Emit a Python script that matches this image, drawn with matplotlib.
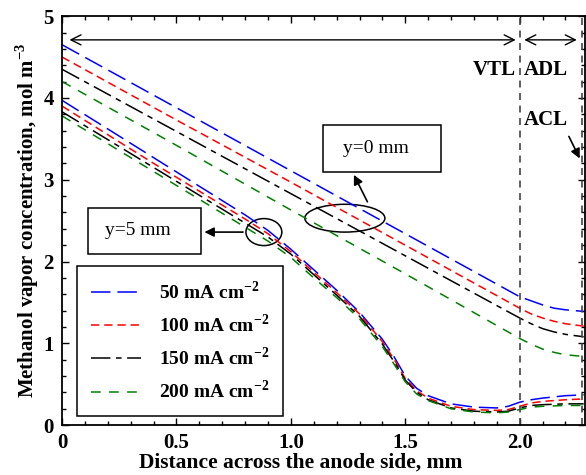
import matplotlib
matplotlib.use('Agg')
import matplotlib.pyplot as plt
from matplotlib.patches import Ellipse, Rectangle
from matplotlib.ticker import MultipleLocator

plt.rcParams['font.family'] = ['Liberation Serif', 'DejaVu Serif']
plt.rcParams['mathtext.fontset'] = 'custom'
plt.rcParams['mathtext.rm'] = 'Liberation Serif:bold'
plt.rcParams['mathtext.bf'] = 'Liberation Serif:bold'
plt.rcParams['lines.scale_dashes'] = False

# y = 0 mm (upper set)
x_top = [0.0, 0.5, 1.0, 1.5, 2.0, 2.05, 2.1, 2.15, 2.2, 2.28]
blue_top = [4.65, 3.88, 3.11, 2.34, 1.57, 1.52, 1.47, 1.43, 1.41, 1.39]
red_top = [4.50, 3.73, 2.97, 2.20, 1.43, 1.36, 1.31, 1.27, 1.24, 1.21]
black_top = [4.35, 3.59, 2.83, 2.07, 1.31, 1.24, 1.18, 1.14, 1.11, 1.08]
green_top = [4.20, 3.42, 2.63, 1.85, 1.06, 0.99, 0.93, 0.89, 0.86, 0.84]

# y = 5 mm (lower set)
x_bot = [0.0, 0.2, 0.4, 0.6, 0.8, 0.9, 1.0, 1.1, 1.2, 1.3, 1.4, 1.45, 1.5,
         1.55, 1.6, 1.7, 1.8, 1.9, 1.95, 2.0, 2.05, 2.1, 2.2, 2.28]
blue_bot = [3.97, 3.62, 3.27, 2.92, 2.57, 2.38, 2.15, 1.90, 1.65, 1.38, 1.05, 0.84, 0.60,
            0.45, 0.36, 0.26, 0.22, 0.21, 0.23, 0.28, 0.31, 0.33, 0.36, 0.37]
red_bot = [3.90, 3.55, 3.20, 2.86, 2.52, 2.34, 2.12, 1.87, 1.62, 1.36, 1.02, 0.81, 0.57,
           0.42, 0.33, 0.23, 0.19, 0.18, 0.19, 0.23, 0.27, 0.29, 0.31, 0.32]
black_bot = [3.83, 3.49, 3.15, 2.81, 2.47, 2.30, 2.09, 1.84, 1.59, 1.33, 0.99, 0.78, 0.55,
             0.40, 0.31, 0.21, 0.17, 0.16, 0.17, 0.21, 0.24, 0.25, 0.26, 0.26]
green_bot = [3.78, 3.44, 3.10, 2.76, 2.42, 2.25, 2.05, 1.80, 1.56, 1.30, 0.96, 0.75, 0.53,
             0.38, 0.30, 0.20, 0.16, 0.15, 0.16, 0.19, 0.22, 0.23, 0.24, 0.24]

labels = [r'50 mA cm$^{-2}$', r'100 mA cm$^{-2}$', r'150 mA cm$^{-2}$', r'200 mA cm$^{-2}$']
colors = ['#0000ff', '#ff0000', '#000000', '#008000']
dashes = [(14, 5), (6, 3.5), (14, 4, 4, 4), (7, 6)]

fig = plt.figure(figsize=(5.86, 4.75), dpi=100)
ax = fig.add_axes([0.106, 0.105, 0.892, 0.861])

tops = [blue_top, red_top, black_top, green_top]
bots = [blue_bot, red_bot, black_bot, green_bot]
for i in range(4):
    ax.plot(x_top, tops[i], color=colors[i], lw=1.1, dashes=dashes[i], label=labels[i])
    ax.plot(x_bot, bots[i], color=colors[i], lw=1.1, dashes=dashes[i])

ax.set_xlim(0, 2.285)
ax.set_ylim(0, 5)

# layer boundaries
ax.axvline(2.0, color='#444444', lw=1.2, dashes=(5, 4))
ax.axvline(2.272, color='#444444', lw=1.2, dashes=(5, 4))

# layer arrows
ax.annotate('', xy=(0.02, 4.71), xytext=(1.995, 4.71),
            arrowprops=dict(arrowstyle='<->', color='k', lw=1.0, mutation_scale=18))
ax.annotate('', xy=(2.008, 4.71), xytext=(2.262, 4.71),
            arrowprops=dict(arrowstyle='<->', color='k', lw=1.0, mutation_scale=18))
ax.text(1.985, 4.34, 'VTL', ha='right', va='center', fontsize=15, fontweight='bold')
ax.text(2.018, 4.34, 'ADL', ha='left', va='center', fontsize=15, fontweight='bold')
ax.text(2.018, 3.73, 'ACL', ha='left', va='center', fontsize=15, fontweight='bold')
ax.annotate('', xy=(2.268, 3.23), xytext=(2.21, 3.56),
            arrowprops=dict(arrowstyle='-|>', color='k', lw=1.2, mutation_scale=14))

# y=0 mm callout
ax.add_patch(Ellipse((1.236, 2.53), 0.35, 0.34, fill=False, ec='k', lw=1.1))
ax.add_patch(Rectangle((1.14, 3.10), 0.515, 0.57, fill=False, ec='k', lw=1.1))
ax.text(1.37, 3.385, 'y=0 mm', ha='center', va='center', fontsize=14)
ax.annotate('', xy=(1.27, 3.09), xytext=(1.34, 2.70),
            arrowprops=dict(arrowstyle='-|>', color='k', lw=1.2, mutation_scale=14))

# y=5 mm callout
ax.add_patch(Ellipse((0.882, 2.36), 0.157, 0.33, fill=False, ec='k', lw=1.1))
ax.add_patch(Rectangle((0.114, 2.09), 0.493, 0.57, fill=False, ec='k', lw=1.1))
ax.text(0.33, 2.375, 'y=5 mm', ha='center', va='center', fontsize=14)
ax.annotate('', xy=(0.61, 2.36), xytext=(0.803, 2.36),
            arrowprops=dict(arrowstyle='-|>', color='k', lw=1.2, mutation_scale=14))

ax.xaxis.set_major_locator(MultipleLocator(0.5))
ax.xaxis.set_minor_locator(MultipleLocator(0.1))
ax.yaxis.set_major_locator(MultipleLocator(1))
ax.yaxis.set_minor_locator(MultipleLocator(0.2))
ax.set_xticks([0, 0.5, 1.0, 1.5, 2.0])
ax.set_xticklabels(['0', '0.5', '1.0', '1.5', '2.0'])
ax.tick_params(which='both', direction='in', top=True, right=True, width=1.0)
ax.tick_params(which='major', length=5, labelsize=15, pad=6)
ax.tick_params(which='minor', length=3)
for lab in ax.get_xticklabels() + ax.get_yticklabels():
    lab.set_fontweight('bold')
for s in ax.spines.values():
    s.set_linewidth(1.3)

ax.set_xlabel('Distance across the anode side, mm', fontsize=15.5, fontweight='bold')
ax.xaxis.set_label_coords(0.457, -0.066)
ax.set_ylabel(r'Methanol vapor concentration, mol m$^{-3}$', fontsize=15, fontweight='bold', labelpad=2)

leg = ax.legend(loc='lower left', bbox_to_anchor=(0.029, 0.022),
                prop={'weight': 'bold', 'size': 14}, handlelength=2.6, handletextpad=0.9,
                labelspacing=0.55, borderpad=0.7, borderaxespad=0, fancybox=False, framealpha=1)
leg.get_frame().set_edgecolor('k')
leg.get_frame().set_linewidth(1.1)

fig.savefig('out.png', dpi=100)
